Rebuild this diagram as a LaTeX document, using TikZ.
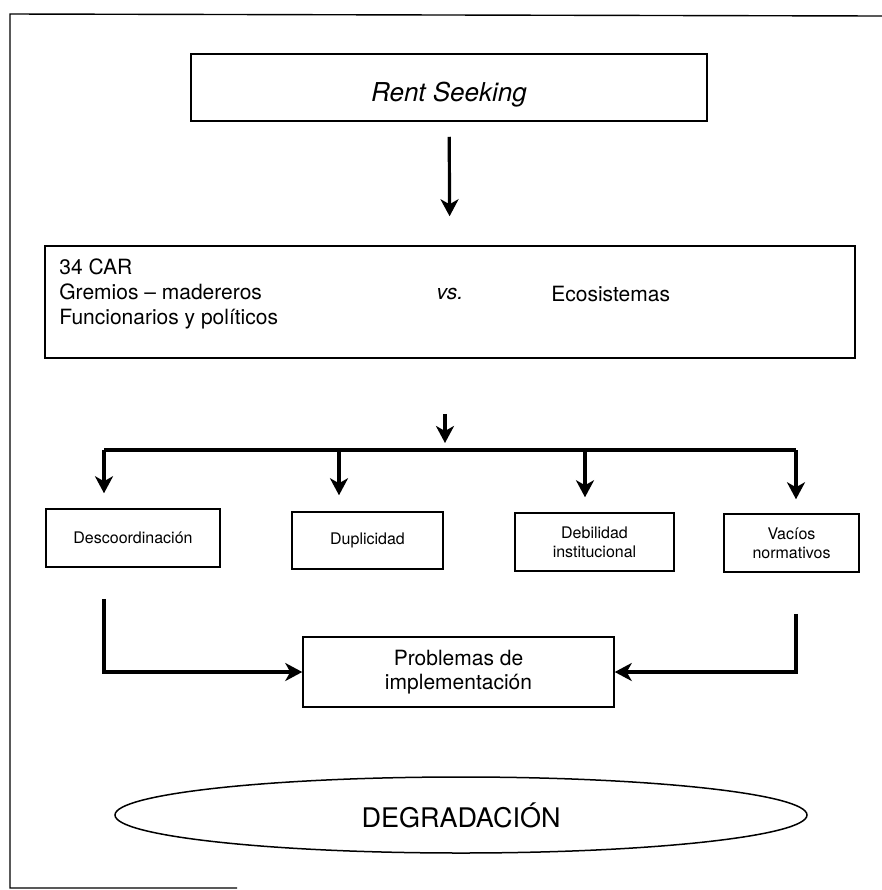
\documentclass[tikz,border=0pt]{standalone}
\usepackage{fontspec}
\setmainfont{TeX Gyre Heros}
\usetikzlibrary{arrows.meta,shapes.geometric}
\begin{document}
\begin{tikzpicture}[x=0.5pt,y=-0.5pt,
    block/.style={shape=rectangle, draw=black, line width=0.75pt, inner sep=0pt, align=center},
    small/.style={block, font=\fontsize{8}{9.5}\selectfont},
    arrow/.style={line width=1.6pt, -{Stealth[length=8.5pt,width=9pt,inset=2.5pt]}},
    bus/.style={line width=1.7pt}]
    \useasboundingbox (0,0) rectangle (882,890);
    \draw[line width=0.7pt] (882,16) -- (10,14) -- (10,888) -- (237,888);

    \node[block, minimum width=258pt, minimum height=33.5pt, text height=17pt, text depth=3pt, font=\fontsize{13}{15}\selectfont\itshape] (rent) at (449,87.5) {Rent Seeking};
    \node[block, minimum width=405pt, minimum height=56pt] (actors) at (450,302) {};
    \node[anchor=west, align=left, inner sep=0pt, font=\fontsize{10.5}{12.5}\selectfont] (agents) at (59,294) {34 CAR\\Gremios – madereros\\Funcionarios y políticos};
    \node[inner sep=0pt, font=\fontsize{10.5}{12.5}\selectfont\itshape] (vs) at (450,294) {vs.};
    \node[anchor=west, inner sep=0pt, font=\fontsize{10.5}{12.5}\selectfont] (eco) at (551,294) {Ecosistemas};

    \node[small, minimum width=87pt, minimum height=29pt] (desc) at (133,538) {Descoordinación};
    \node[small, minimum width=75.5pt, minimum height=28.5pt] (dup) at (367.5,540.5) {Duplicidad};
    \node[small, minimum width=79.5pt, minimum height=29pt] (deb) at (594.5,542) {Debilidad\\institucional};
    \node[small, minimum width=67.5pt, minimum height=29pt] (vac) at (791.5,543) {Vacíos\\normativos};

    \node[block, minimum width=155.5pt, minimum height=35pt, font=\fontsize{10.5}{12}\selectfont] (prob) at (458.5,672) {Problemas de\\implementación};
    \node[shape=ellipse, draw=black, line width=0.75pt, minimum width=346pt, minimum height=38pt, inner sep=0pt, font=\fontsize{13.5}{15}\selectfont] (degr) at (461,815) {DEGRADACIÓN};

    \coordinate (split) at (445,450);
    \coordinate (busL) at (104,450);
    \coordinate (busR) at (796,450);
    \coordinate (dropDup) at (339,450);
    \coordinate (dropDeb) at (585,450);

    \path (rent) edge[arrow, shorten <=7.5pt, shorten >=14.5pt] (actors);
    \path (actors.south -| split) edge[arrow, shorten <=27.5pt, shorten >=3.5pt] (split);
    \draw[bus] (busL) -- (busR);

    \path (busL) edge[arrow, shorten >=7.5pt] (busL |- desc.north);
    \path (dropDup) edge[arrow, shorten >=8pt] (dropDup |- dup.north);
    \path (dropDeb) edge[arrow, shorten >=7.5pt] (dropDeb |- deb.north);
    \path (busR) edge[arrow, shorten >=7pt] (busR |- vac.north);

    \draw[arrow, shorten <=15.5pt] (desc.south -| busL) |- (prob.west);
    \draw[arrow, shorten <=20.5pt] (vac.south -| busR) |- (prob.east);
\end{tikzpicture}
\end{document}
